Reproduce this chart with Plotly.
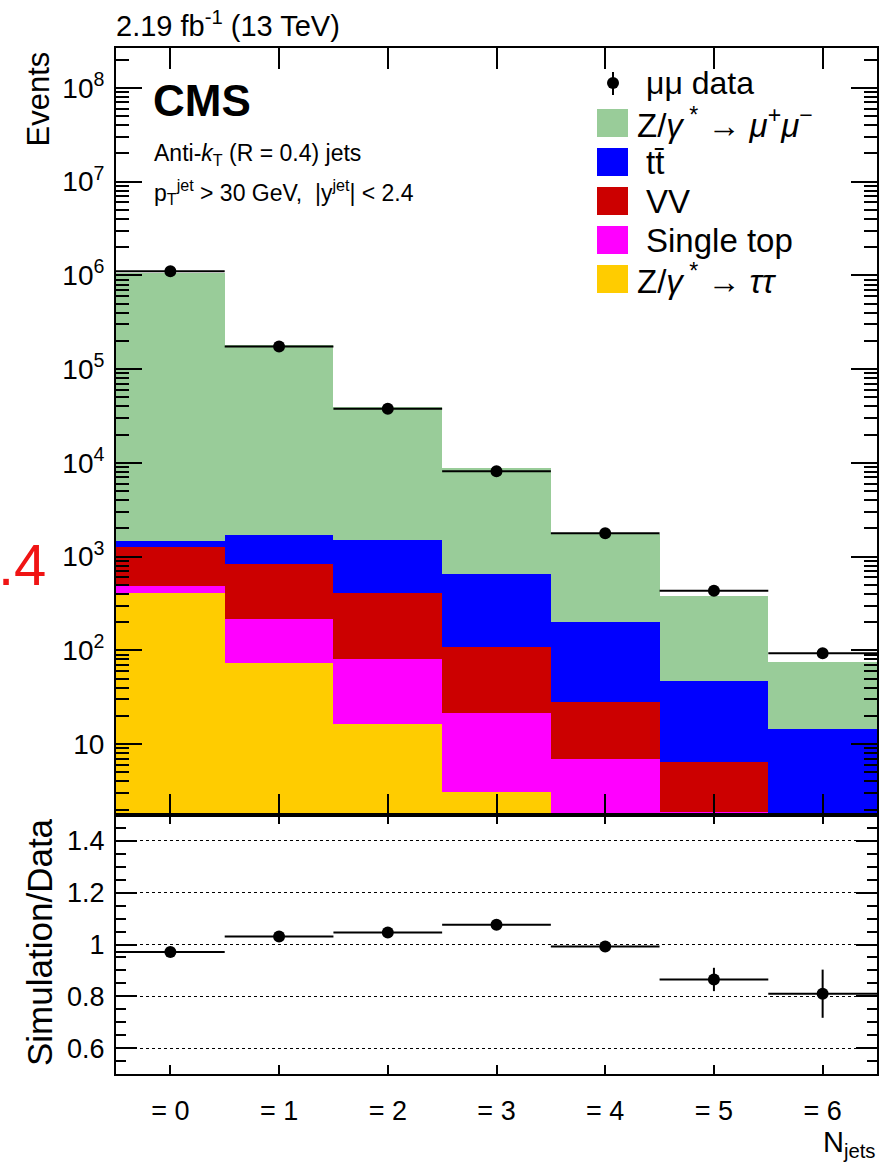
import plotly.graph_objects as go

# Jet multiplicity bins
n_jets = [0, 1, 2, 3, 4, 5, 6]
tick_labels = ["= 0", "= 1", "= 2", "= 3", "= 4", "= 5", "= 6"]

# Event yields per bin
data_mumu = [1.107e6, 1.746e5, 3.79e4, 8140, 1778, 432, 93.1]
z_tautau = [411, 74, 16.5, 3.05, 1.0, 0.3, 0.1]
single_top = [74, 144, 65, 18.7, 6.0, 1.6, 0.5]
diboson = [786, 614, 329, 86, 21.2, 4.5, 0.9]
ttbar = [202, 850, 1089, 543, 172, 41.2, 13.0]
z_mumu = [1.0686e6, 1.783e5, 3.83e4, 8100, 1560, 330, 61]

# Simulation / data ratio
ratio = [0.971, 1.031, 1.046, 1.076, 0.992, 0.865, 0.810]
ratio_err = [0.003, 0.004, 0.006, 0.008, 0.015, 0.045, 0.093]

# Axis tick labels
events_ticks = [10, 1e2, 1e3, 1e4, 1e5, 1e6, 1e7, 1e8]
events_ticktext = ["10", "10<sup>2</sup>", "10<sup>3</sup>", "10<sup>4</sup>",
                   "10<sup>5</sup>", "10<sup>6</sup>", "10<sup>7</sup>", "10<sup>8</sup>"]
ratio_ticks = [0.6, 0.8, 1.0, 1.2, 1.4]
ratio_ticktext = ["0.6", "0.8", "1", "1.2", "1.4"]

FONT = "Liberation Sans, Arial, Helvetica, sans-serif"
W, H = 885, 1162
L, R, T, B = 116, 8, 48, 88
PLOT_W = W - L - R
PLOT_H = H - T - B
SPLIT_PX = 815  # boundary between the two pads


def px_x(px):
    return (px - L) / PLOT_W


def px_y(py):
    return (H - B - py) / PLOT_H


split = px_y(SPLIT_PX)

stack = [
    ("Z/<i>γ</i><sup> *</sup> → <i>ττ</i>", z_tautau, "#FFCC00"),
    ("Single top", single_top, "#FF00FF"),
    ("VV", diboson, "#CC0000"),
    ("tt̄", ttbar, "#0000FF"),
    ("Z/<i>γ</i><sup> *</sup> → <i>μ</i><sup>+</sup><i>μ</i><sup>−</sup>", z_mumu, "#99CC99"),
]

fig = go.Figure()
for name, vals, col in stack:
    fig.add_trace(go.Bar(
        x=n_jets, y=vals, width=1.0, name=name,
        marker=dict(color=col, line=dict(width=0)),
        xaxis="x", yaxis="y", showlegend=False,
    ))

fig.add_trace(go.Scatter(
    x=n_jets, y=data_mumu, mode="markers", name="μμ data",
    marker=dict(color="black", size=12),
    error_x=dict(type="constant", value=0.5, thickness=2, width=0, color="black"),
    xaxis="x", yaxis="y", showlegend=False,
))

fig.add_trace(go.Scatter(
    x=n_jets, y=ratio, mode="markers",
    marker=dict(color="black", size=12),
    error_x=dict(type="constant", value=0.5, thickness=2, width=0, color="black"),
    error_y=dict(type="data", array=ratio_err, thickness=2, width=0, color="black"),
    xaxis="x2", yaxis="y2", showlegend=False,
))

axis_common = dict(showline=True, linecolor="black", linewidth=2, mirror="ticks",
                   ticks="inside", tickcolor="black", tickwidth=2, zeroline=False,
                   automargin=False,
                   tickfont=dict(family=FONT, size=28, color="black"))

minor_log = [m * 10 ** e for e in range(0, 9) for m in range(2, 10)]

fig.update_layout(
    width=W, height=H, autosize=False,
    margin=dict(l=L, r=R, t=T, b=B, pad=0),
    paper_bgcolor="white", plot_bgcolor="white",
    barmode="stack", bargap=0,
    font=dict(family=FONT, color="black"),
    xaxis=dict(axis_common, domain=[0, 1], anchor="y", range=[-0.5, 6.5],
               tickvals=n_jets, showticklabels=False, ticklen=21, showgrid=False),
    yaxis=dict(axis_common, domain=[split, 1], anchor="x", type="log",
               range=[0.244, 8.426], tickmode="array", tickvals=events_ticks,
               ticktext=events_ticktext, ticklen=26, showgrid=False,
               ticklabelstandoff=4,
               minor=dict(tickmode="array", tickvals=minor_log, ticks="inside",
                          ticklen=13, tickwidth=2, tickcolor="black", showgrid=False)),
    xaxis2=dict(axis_common, domain=[0, 1], anchor="y2", range=[-0.5, 6.5],
                tickvals=n_jets, ticktext=tick_labels, ticklen=9, showgrid=False,
                ticklabelstandoff=12,
                tickfont=dict(family=FONT, size=27, color="black")),
    yaxis2=dict(axis_common, domain=[0, split], anchor="x2", range=[0.5, 1.5],
                tickvals=ratio_ticks, ticktext=ratio_ticktext, ticklen=21,
                showgrid=True, gridcolor="black", gridwidth=1, griddash="dot",
                ticklabelstandoff=4,
                tickfont=dict(family=FONT, size=27, color="black"),
                minor=dict(dtick=0.05, ticks="inside", ticklen=10, tickwidth=2,
                           tickcolor="black", showgrid=False)),
)

ann = []


def text(s, x, y, size, xanchor="left", yanchor="middle", color="black", angle=0, bold=False):
    if bold:
        s = "<b>" + s + "</b>"
    ann.append(dict(text=s, x=px_x(x), y=px_y(y), xref="paper", yref="paper",
                    xanchor=xanchor, yanchor=yanchor, showarrow=False, textangle=angle,
                    font=dict(family=FONT, size=size, color=color)))


text("2.19 fb<sup>-1</sup> (13 TeV)", 114, 24, 29)
text("CMS", 151, 100, 44, bold=True)
text("Anti-<i>k</i><sub>T</sub> (R = 0.4) jets", 152, 155, 23)
text("p<sub>T</sub><sup>jet</sup> > 30 GeV,  |y<sup>jet</sup>| < 2.4", 152, 192, 23)
text("Events", 38, 50, 31, xanchor="center", yanchor="top", angle=-90)
text("Simulation/Data", 39, 942, 35, xanchor="center", angle=-90)
text("N<sub>jets</sub>", 878, 1164, 29, xanchor="right", yanchor="bottom")
text(".4", 48, 564, 58, xanchor="right", color="#F01414")

# Legend: data entry
fig.add_shape(type="line", xref="paper", yref="paper", x0=px_x(613), x1=px_x(613),
              y0=px_y(72), y1=px_y(95), line=dict(color="black", width=2))
fig.add_shape(type="circle", xref="paper", yref="paper", x0=px_x(607), x1=px_x(619),
              y0=px_y(77), y1=px_y(89), fillcolor="black", line=dict(color="black", width=0))
text("μμ data", 644, 83, 32)

legend_rows = [
    (stack[4], 123, 635),
    (stack[3], 162, 644),
    (stack[2], 201, 644),
    (stack[1], 240, 644),
    (stack[0], 279, 635),
]
for (name, _, col), yc, xt in legend_rows:
    fig.add_shape(type="rect", xref="paper", yref="paper",
                  x0=px_x(597), x1=px_x(628), y0=px_y(yc - 14), y1=px_y(yc + 14),
                  fillcolor=col, line=dict(width=0))
    text(name, xt, yc, 33)

fig.update_layout(annotations=ann)
fig.write_html("out.html")
